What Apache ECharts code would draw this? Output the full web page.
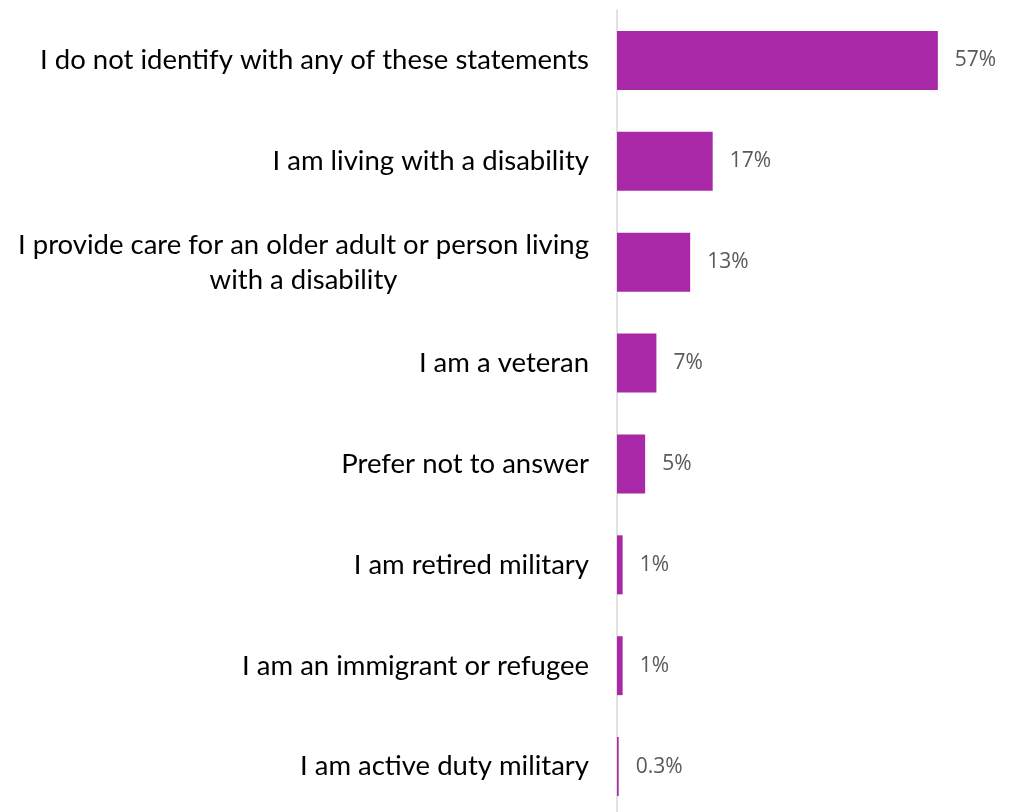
<!DOCTYPE html>
<html>
<head>
<meta charset="utf-8">
<script src="https://cdn.jsdelivr.net/npm/echarts@6/dist/echarts.min.js"></script>
<style>
  html, body { margin: 0; padding: 0; background: #ffffff; }
  #chart { width: 1014px; height: 812px; }
</style>
</head>
<body>
<div id="chart"></div>
<script>
// Survey responses: share of respondents identifying with each statement
const categories = [
  'I do not identify with any of these statements',
  'I am living with a disability',
  'I provide care for an older adult or person living\nwith a disability',
  'I am a veteran',
  'Prefer not to answer',
  'I am retired military',
  'I am an immigrant or refugee',
  'I am active duty military'
];
const values = [57, 17, 13, 7, 5, 1, 1, 0.3];
const valueLabels = ['57%', '17%', '13%', '7%', '5%', '1%', '1%', '0.3%'];

const labelFontSize = 27.5;
const measureCtx = document.createElement('canvas').getContext('2d');
measureCtx.font = labelFontSize + 'px Lato';
function textWidth(s) { return Math.ceil(measureCtx.measureText(s).width); }

// Multi-line category labels: lines are centred on the widest line, block right-aligned
function formatLabel(value) {
  const lines = value.split('\n');
  if (lines.length === 1) return value;
  return lines.map(l => '{c|' + l + '}').join('\n');
}
let maxLineWidth = 0;
categories.forEach(c => {
  const lines = c.split('\n');
  if (lines.length > 1) lines.forEach(l => { maxLineWidth = Math.max(maxLineWidth, textWidth(l)); });
});

const chart = echarts.init(document.getElementById('chart'));
chart.setOption({
  animation: false,
  grid: { left: 617, right: 3, top: 10, height: 807, containLabel: false, outerBoundsMode: 'none' },
  xAxis: {
    type: 'value', min: 0, max: 70,
    show: false
  },
  yAxis: {
    type: 'category',
    inverse: true,
    data: categories,
    axisLine: { show: true, lineStyle: { color: '#d9d9d9', width: 1.5 } },
    axisTick: { show: false },
    splitLine: { show: false },
    axisLabel: {
      margin: 28,
      color: '#000000',
      fontFamily: 'Lato',
      fontSize: labelFontSize,
      lineHeight: 35,
      formatter: formatLabel,
      rich: {
        c: { width: maxLineWidth, align: 'center', fontFamily: 'Lato', fontSize: labelFontSize, lineHeight: 35, color: '#000000' }
      }
    }
  },
  series: [{
    type: 'bar',
    data: values,
    barWidth: 59,
    itemStyle: { color: '#a828a8' },
    label: {
      show: true,
      position: 'right',
      distance: 17,
      color: '#595959',
      fontFamily: 'Open Sans',
      fontSize: 21,
      formatter: p => valueLabels[p.dataIndex]
    }
  }]
});
</script>
</body>
</html>
